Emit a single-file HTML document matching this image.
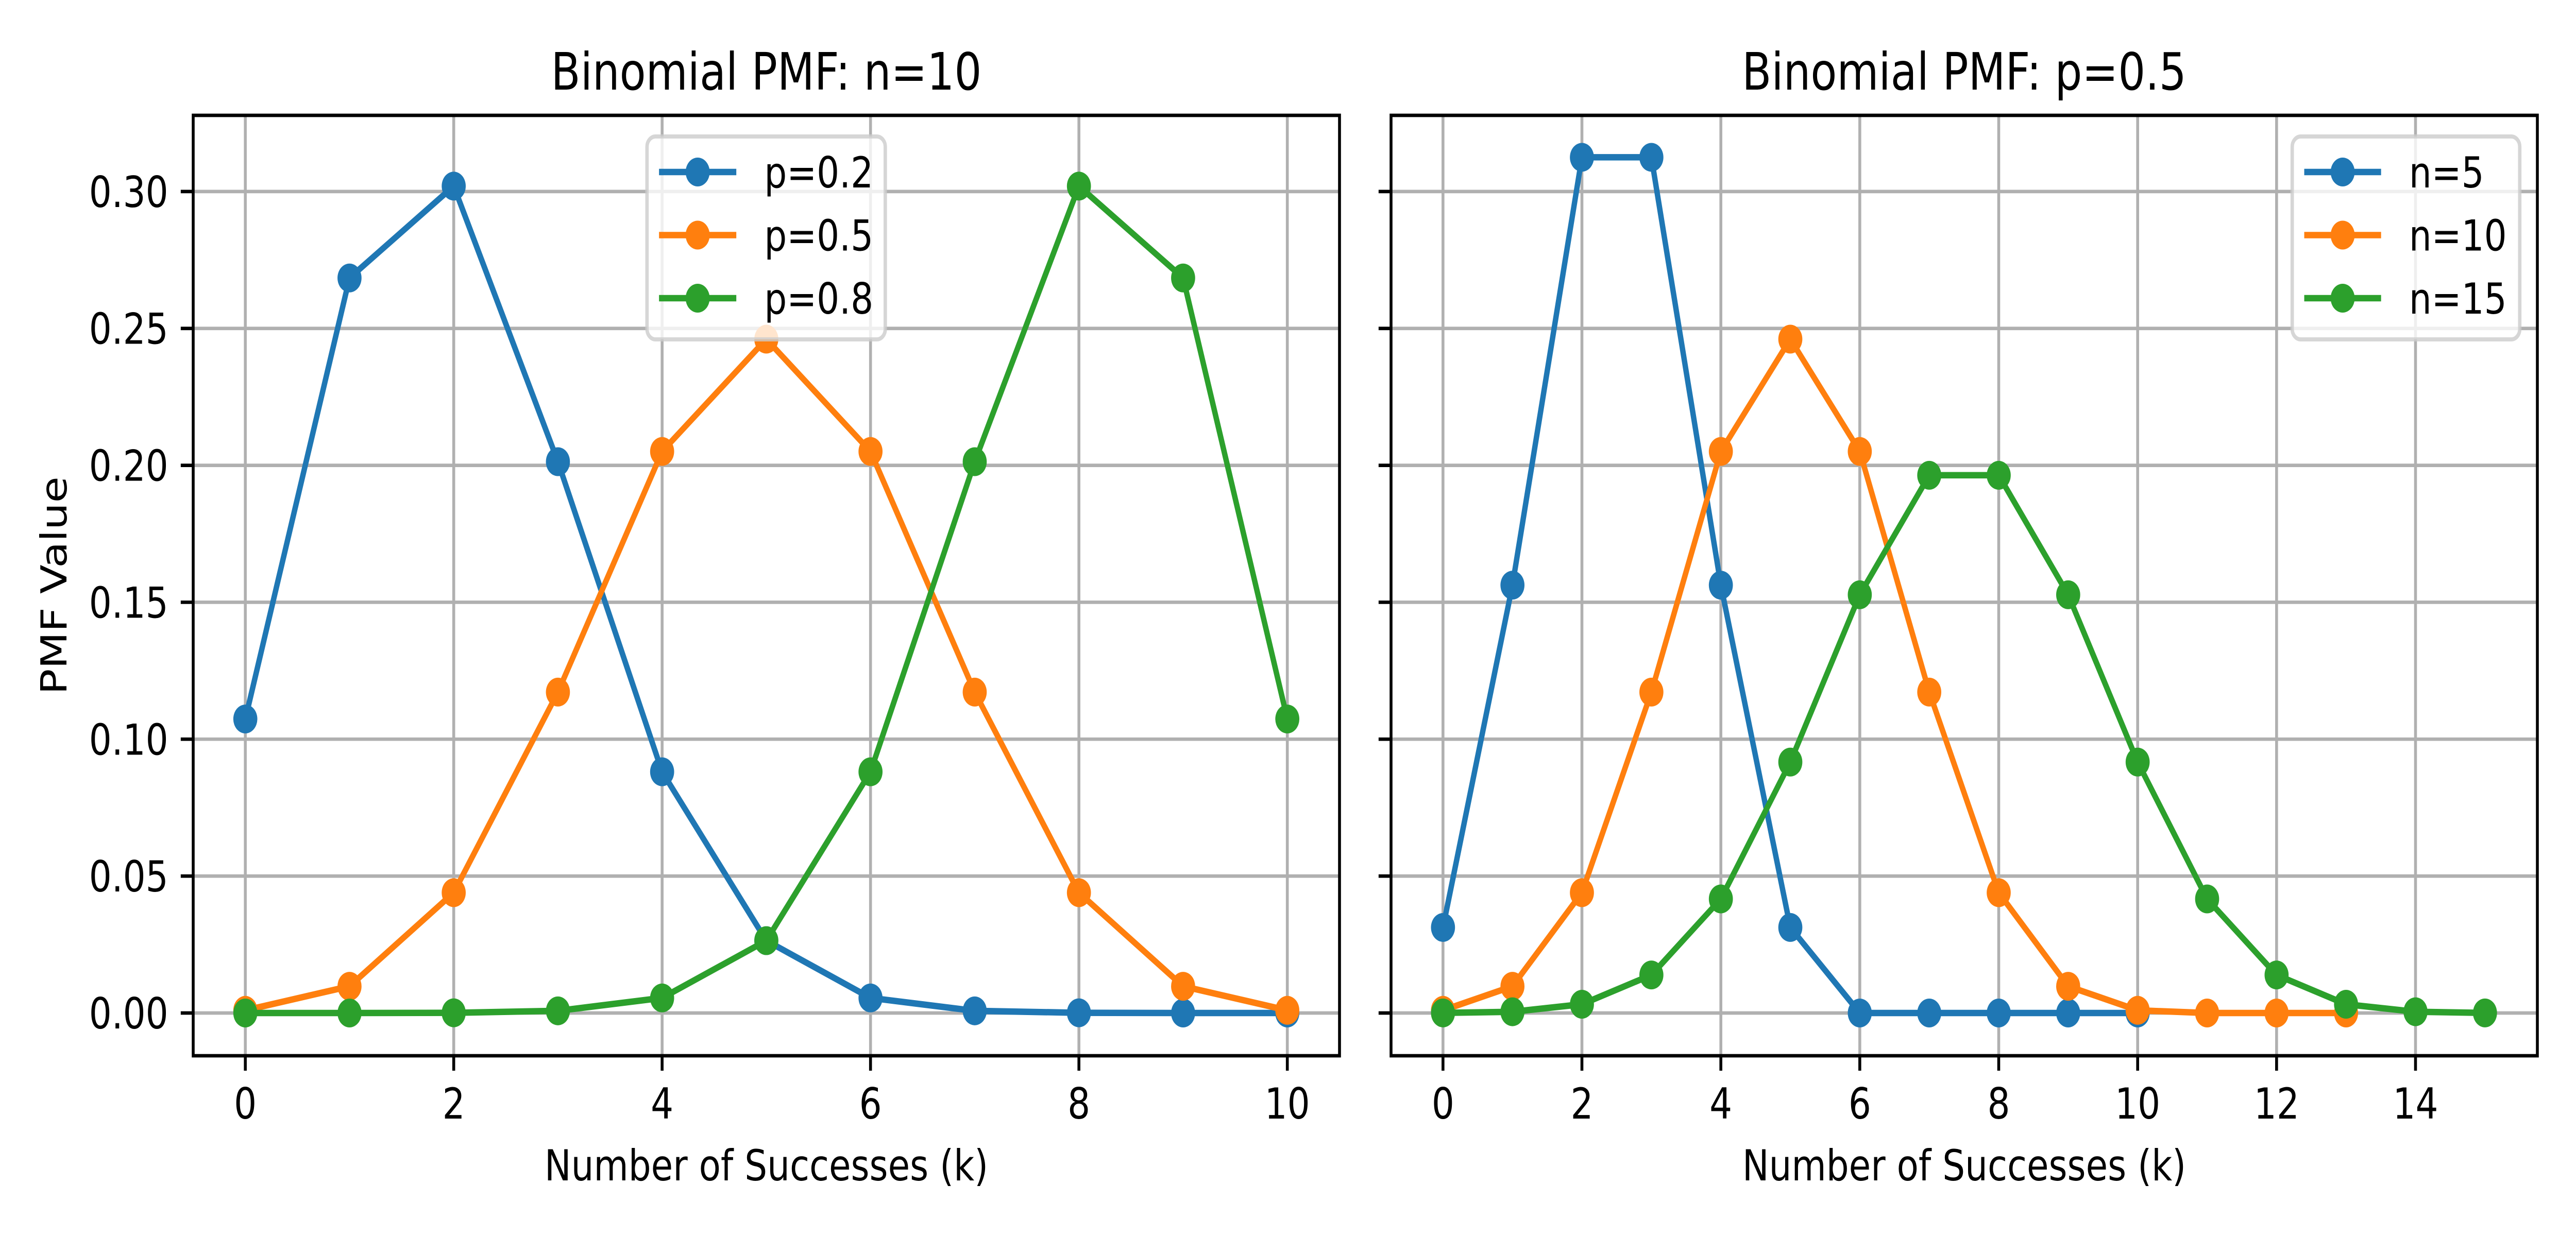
<!DOCTYPE html>
<html><head><meta charset="utf-8">
<style>
html,body{margin:0;padding:0;background:#fff;width:100%;height:100%;overflow:hidden;}
svg{display:block;position:absolute;left:0;top:0;width:100vw;height:100vh;}
text{font-family:"DejaVu Sans","Liberation Sans",sans-serif;fill:#000;}
</style></head><body>
<svg id="s" viewBox="0 0 6000 2400" preserveAspectRatio="none" xmlns="http://www.w3.org/2000/svg"></svg>
<script>
(function(){
var s=document.getElementById('s');var h='';
var C=['#1f77b4','#ff7f0e','#2ca02c'];
function comb(n,k){var r=1;for(var i=1;i<=k;i++)r=r*(n-k+i)/i;return r;}
function pmf(n,p,m){var a=[];for(var k=0;k<=m;k++)a.push(k<=n?comb(n,k)*Math.pow(p,k)*Math.pow(1-p,n-k):0);return a;}
function Y(v){return 1967-v*5317;}
var T0=224,B0=2050;
function panel(L,R,x0,u,xt,series,showY,title,leg){
  function X(k){return x0+k*u;}
  xt.forEach(function(t){h+='<line x1="'+X(t)+'" y1="'+T0+'" x2="'+X(t)+'" y2="'+B0+'" stroke="#b0b0b0" stroke-width="6.7"/>';});
  for(var i=0;i<=6;i++){var y=Y(i*0.05);h+='<line x1="'+L+'" y1="'+y+'" x2="'+R+'" y2="'+y+'" stroke="#b0b0b0" stroke-width="6.7"/>';}
  series.forEach(function(d,si){
    var pts=d.map(function(v,k){return X(k).toFixed(1)+','+Y(v).toFixed(1);}).join(' ');
    h+='<polyline points="'+pts+'" fill="none" stroke="'+C[si]+'" stroke-width="12.5" stroke-linejoin="round" stroke-linecap="square"/>';
    d.forEach(function(v,k){h+='<circle cx="'+X(k)+'" cy="'+Y(v)+'" r="28" fill="'+C[si]+'"/>';});
  });
  h+='<rect x="'+L+'" y="'+T0+'" width="'+(R-L)+'" height="'+(B0-T0)+'" fill="none" stroke="#000" stroke-width="6.7"/>';
  xt.forEach(function(t){h+='<line x1="'+X(t)+'" y1="'+B0+'" x2="'+X(t)+'" y2="'+(B0+29)+'" stroke="#000" stroke-width="6.7"/>';
    h+='<text x="'+X(t)+'" y="2172" font-size="83" text-anchor="middle">'+t+'</text>';});
  for(var j=0;j<=6;j++){var yy=Y(j*0.05);h+='<line x1="'+(L-29)+'" y1="'+yy+'" x2="'+L+'" y2="'+yy+'" stroke="#000" stroke-width="6.7"/>';
    if(showY)h+='<text x="'+(L-58)+'" y="'+(yy+30)+'" font-size="83" text-anchor="end">'+(j*0.05).toFixed(2)+'</text>';}
  h+='<text x="'+((L+R)/2)+'" y="174" font-size="100" text-anchor="middle">'+title+'</text>';
  h+='<text x="'+((L+R)/2)+'" y="2292" font-size="83" text-anchor="middle">Number of Successes (k)</text>';
  var bx1=leg[0],bx2=leg[1],lx1=leg[2],lx2=leg[3],tx=leg[4];
  h+='<rect x="'+bx1+'" y="265" width="'+(bx2-bx1)+'" height="394" rx="20" fill="rgba(255,255,255,0.8)" stroke="rgba(204,204,204,0.8)" stroke-width="8"/>';
  leg[5].forEach(function(lab,i){var y=334+i*122.5;
    h+='<line x1="'+lx1+'" y1="'+y+'" x2="'+lx2+'" y2="'+y+'" stroke="'+C[i]+'" stroke-width="12.5"/>';
    h+='<circle cx="'+((lx1+lx2)/2)+'" cy="'+y+'" r="28" fill="'+C[i]+'"/>';
    h+='<text x="'+tx+'" y="'+(y+30)+'" font-size="83">'+lab+'</text>';});
}
panel(450,3120,571.4,242.7,[0,2,4,6,8,10],[pmf(10,0.2,10),pmf(10,0.5,10),pmf(10,0.8,10)],true,'Binomial PMF: n=10',
  [1507,2062,1535,1715,1780,['p=0.2','p=0.5','p=0.8']]);
panel(3240,5910,3361,161.8,[0,2,4,6,8,10,12,14],[pmf(5,0.5,10),pmf(10,0.5,13),pmf(15,0.5,15)],false,'Binomial PMF: p=0.5',
  [5339,5869,5367,5546,5611,['n=5','n=10','n=15']]);
h+='<text transform="translate(155,1137) rotate(-90)" font-size="83" text-anchor="middle">PMF Value</text>';
s.innerHTML=h;
})();
</script>
</body></html>
